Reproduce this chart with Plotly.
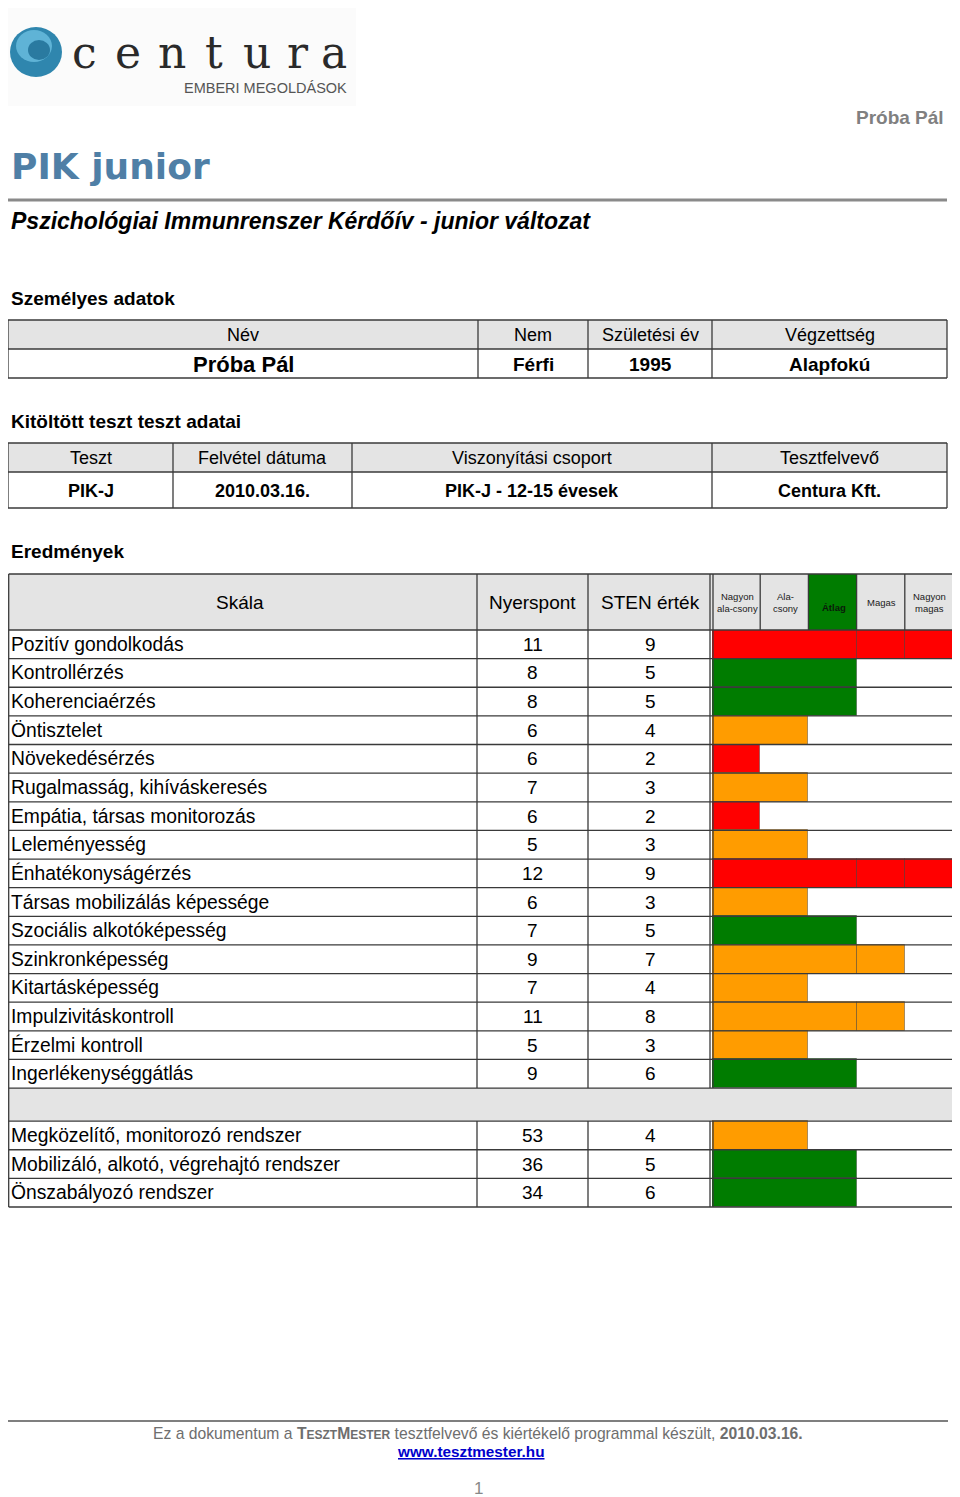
import plotly.graph_objects as go

# ---------------- data ----------------
scale_names = [
    "Pozitív gondolkodás", "Kontrollérzés", "Koherenciaérzés", "Öntisztelet",
    "Növekedésérzés", "Rugalmasság, kihíváskeresés", "Empátia, társas monitorozás",
    "Leleményesség", "Énhatékonyságérzés", "Társas mobilizálás képessége",
    "Szociális alkotóképesség", "Szinkronképesség", "Kitartásképesség",
    "Impulzivitáskontroll", "Érzelmi kontroll", "Ingerlékenységgátlás",
]
raw_scores = [11, 8, 8, 6, 6, 7, 6, 5, 12, 6, 7, 9, 7, 11, 5, 9]
sten_scores = [9, 5, 5, 4, 2, 3, 2, 3, 9, 3, 5, 7, 4, 8, 3, 6]

system_names = [
    "Megközelítő, monitorozó rendszer",
    "Mobilizáló, alkotó, végrehajtó rendszer",
    "Önszabályozó rendszer",
]
system_raw = [53, 36, 34]
system_sten = [4, 5, 6]

level_labels = ["Nagyon<br>ala-csony", "Ala-<br>csony", "Átlag", "Magas", "Nagyon<br>magas"]
level_colors = ["#ff0000", "#ff9c00", "#007c00", "#ff9c00", "#ff0000"]

personal_headers = ["Név", "Nem", "Születési év", "Végzettség"]
personal_values = ["Próba Pál", "Férfi", "1995", "Alapfokú"]
test_headers = ["Teszt", "Felvétel dátuma", "Viszonyítási csoport", "Tesztfelvevő"]
test_values = ["PIK-J", "2010.03.16.", "PIK-J - 12-15 évesek", "Centura Kft."]
result_headers = ["Skála", "Nyerspont", "STEN érték"]

person_name = "Próba Pál"
title_text = "PIK junior"
subtitle_text = "Pszichológiai Immunrenszer Kérdőív - junior változat"

# ---------------- layout constants (page pixels) ----------------
PAGE_W, PAGE_H = 960, 1497
OFF = 8                      # default page margin around the figure
W, H = PAGE_W - OFF, PAGE_H - OFF
FONT = "Liberation Sans, Arial, Helvetica, sans-serif"
LINE = "#3a3a3a"
HEAD_BG = "#e4e4e4"
LEFT = 8.5                   # left anchor for left-aligned texts

P_X = [8, 478, 588, 712, 947]
P_Y = [320, 349, 378]
T_X = [8, 173, 352, 712, 947]
T_Y = [443, 472, 508]
R_X = [8.7, 477, 588, 712, 953]
R_HEAD = (574, 630)
R_MAIN = (630, 1088)
R_SEP = (1088, 1121)
R_SYS = (1121, 1207)

n_main = len(scale_names)
n_sys = len(system_names)
rh_main = (R_MAIN[1] - R_MAIN[0]) / n_main
sep_units = (R_SEP[1] - R_SEP[0]) / rh_main
TOT = n_main + sep_units + n_sys
RHPX = (R_SYS[1] - R_MAIN[0]) / TOT

row_pos = [i + 0.5 for i in range(n_main)] + [n_main + sep_units + j + 0.5 for j in range(n_sys)]


def to_px(u):
    return R_MAIN[0] + u * RHPX


fig = go.Figure()
shapes = []
ann = []


def hline(x0, x1, y, w=1.3, color=LINE):
    shapes.append(dict(type="line", xref="x", yref="y", x0=x0, x1=x1, y0=y, y1=y,
                       line=dict(color=color, width=w), layer="above"))


def vline(x, y0, y1, w=1.3, color=LINE):
    shapes.append(dict(type="line", xref="x", yref="y", x0=x, x1=x, y0=y0, y1=y1,
                       line=dict(color=color, width=w), layer="above"))


def fill(x0, y0, x1, y1, color):
    shapes.append(dict(type="rect", xref="x", yref="y", x0=x0, x1=x1, y0=y0, y1=y1,
                       line=dict(width=0), fillcolor=color, layer="below"))


def text(x, y, s, size=19, color="#000", bold=False, italic=False, xanchor="center",
         family=FONT, yref="y", **kw):
    ann.append(dict(x=x, y=y, xref="x", yref=yref, text=s, showarrow=False,
                    xanchor=xanchor, yanchor="middle",
                    font=dict(family=family, size=size, color=color,
                              weight="bold" if bold else "normal",
                              style="italic" if italic else "normal", **kw)))


# ---------------- logo ----------------
fill(8, 8, 356, 106, "#fbfbfb")
shapes.append(dict(type="circle", xref="x", yref="y", x0=10, x1=62, y0=27, y1=77,
                   fillcolor="#2f86ae", line=dict(width=0), layer="above"))
shapes.append(dict(type="circle", xref="x", yref="y", x0=16, x1=52, y0=30, y1=62,
                   fillcolor="#5fb3d6", line=dict(width=0), layer="above"))
shapes.append(dict(type="circle", xref="x", yref="y", x0=28, x1=50, y0=40, y1=60,
                   fillcolor="#2a7aa0", line=dict(width=0), layer="above"))
for ch, cx in zip("centura", [84, 128, 172, 214, 257, 298, 334]):
    text(cx, 52, ch, size=44, color="#2a2a2a", family="DejaVu Serif, serif")
text(265, 88, "EMBERI MEGOLDÁSOK", size=14.5, color="#555")

# ---------------- header ----------------
text(946, 117, person_name, size=19, color="#808080", bold=True, xanchor="right")
text(LEFT, 166, title_text, size=36, color="#4f7fa6", bold=True, xanchor="left",
     family="DejaVu Sans, Verdana, sans-serif")
hline(8, 947, 200, w=3, color="#8a8a8a")
text(LEFT, 221, subtitle_text, size=23, bold=True, italic=True, xanchor="left")

# ---------------- personal table ----------------
text(LEFT, 298, "Személyes adatok", size=19, bold=True, xanchor="left")
fill(P_X[0], P_Y[0], P_X[-1], P_Y[1], HEAD_BG)
for y in P_Y:
    hline(P_X[0], P_X[-1], y)
for x in P_X:
    vline(x, P_Y[0], P_Y[-1])
for i, (h, v) in enumerate(zip(personal_headers, personal_values)):
    cx = (P_X[i] + P_X[i + 1]) / 2
    text(cx, (P_Y[0] + P_Y[1]) / 2, h, size=18)
    text(cx, (P_Y[1] + P_Y[2]) / 2 + 1, v, size=22 if i == 0 else 19, bold=True)

# ---------------- test table ----------------
text(LEFT, 421, "Kitöltött teszt teszt adatai", size=19, bold=True, xanchor="left")
fill(T_X[0], T_Y[0], T_X[-1], T_Y[1], HEAD_BG)
for y in T_Y:
    hline(T_X[0], T_X[-1], y)
for x in T_X:
    vline(x, T_Y[0], T_Y[-1])
for i, (h, v) in enumerate(zip(test_headers, test_values)):
    cx = (T_X[i] + T_X[i + 1]) / 2
    text(cx, (T_Y[0] + T_Y[1]) / 2, h, size=18)
    text(cx, (T_Y[1] + T_Y[2]) / 2 + 1, v, size=18, bold=True)

# ---------------- results table ----------------
text(LEFT, 551, "Eredmények", size=19, bold=True, xanchor="left")
n_lv = len(level_labels)
cell_w = (R_X[-1] - R_X[3]) / n_lv
cat_x = [R_X[3] + k * cell_w for k in range(n_lv + 1)]

fill(R_X[0], R_HEAD[0], R_X[-1], R_HEAD[1], HEAD_BG)
fill(cat_x[2], R_HEAD[0], cat_x[3], R_HEAD[1], level_colors[2])
fill(R_X[0], R_SEP[0], R_X[-1], R_SEP[1], HEAD_BG)

hy = (R_HEAD[0] + R_HEAD[1]) / 2
for i, h in enumerate(result_headers):
    text((R_X[i] + R_X[i + 1]) / 2 - (3 if i == 0 else 0), hy, h, size=19)
for k, lab in enumerate(level_labels):
    text((cat_x[k] + cat_x[k + 1]) / 2 + 1, hy + (5 if k == 2 else 0), lab, size=9.5,
         color="#0a1a0a" if k == 2 else "#1a1a1a", bold=(k == 2))

hline(R_X[0], R_X[-1], R_HEAD[0])
for x in [R_X[0], R_X[1], R_X[2], R_X[3] - 2, R_X[3] + 1] + cat_x[1:]:
    vline(x, R_HEAD[0], R_HEAD[1])

bounds = [to_px(u) for u in range(n_main + 1)]
bounds += [to_px(n_main + sep_units + j) for j in range(n_sys + 1)]
for y in bounds:
    hline(R_X[0], R_X[-1], y)
for (y0, y1) in [(R_MAIN[0], R_MAIN[1]), (R_SYS[0], R_SYS[1])]:
    for x in [R_X[0], R_X[1], R_X[2], R_X[3] - 2, R_X[3] + 1, R_X[-1]]:
        vline(x, y0, y1)
vline(R_X[0], R_SEP[0], R_SEP[1])
vline(R_X[-1], R_SEP[0], R_SEP[1])

all_names = scale_names + system_names
all_raw = raw_scores + system_raw
all_sten = sten_scores + system_sten
for pos, nm, rw, st in zip(row_pos, all_names, all_raw, all_sten):
    text(LEFT + 0.5, pos, nm, size=19.3, xanchor="left", yref="y2")
    text((R_X[1] + R_X[2]) / 2, pos, str(rw), size=19, yref="y2")
    text((R_X[2] + R_X[3]) / 2, pos, str(st), size=19, yref="y2")

# bars: STEN level (1-2, 3-4, 5-6, 7-8, 9-10); block up to "Átlag", then single cells
levels = [(s + 1) // 2 for s in all_sten]
row_colors = [level_colors[lv - 1] for lv in levels]
segments = [(0, 3), (3, 4), (4, 5)]
for lo, hi in segments:
    xs = [(min(lv, hi) - lo) if lv > lo else None for lv in levels]
    fig.add_trace(go.Bar(
        orientation="h", y=row_pos, x=xs, base=lo, width=1,
        marker=dict(color=row_colors, line=dict(color="rgba(40,40,40,0.4)", width=1)),
        xaxis="x2", yaxis="y2", hoverinfo="skip", showlegend=False,
    ))

# ---------------- footer ----------------
hline(8, 948, 1421, w=1.5, color="#555")
foot = ("Ez a dokumentum a <b>T<span style='font-size:12px'>ESZT</span>M"
        "<span style='font-size:12px'>ESTER</span></b> tesztfelvevő és kiértékelő "
        "programmal készült, <b>2010.03.16.</b>")
text(478, 1433, foot, size=15.7, color="#6e6e6e")
text(471, 1451, "www.tesztmester.hu", size=15.3, color="#0000cc", bold=True, lineposition="under")
text(478, 1488, "1", size=17, color="#888")


def dom_x(a, b):
    return [(a - OFF) / W, (b - OFF) / W]


def dom_y(top, bottom):
    return [1 - (bottom - OFF) / H, 1 - (top - OFF) / H]


fig.update_layout(
    width=W, height=H,
    margin=dict(l=0, r=0, t=0, b=0),
    paper_bgcolor="white", plot_bgcolor="rgba(0,0,0,0)",
    barmode="overlay", bargap=0,
    xaxis=dict(range=[OFF, PAGE_W], visible=False, domain=[0, 1], fixedrange=True),
    yaxis=dict(range=[PAGE_H, OFF], visible=False, domain=[0, 1], fixedrange=True),
    xaxis2=dict(range=[0, n_lv], visible=False, anchor="y2",
                domain=dom_x(R_X[3], R_X[-1]), fixedrange=True),
    yaxis2=dict(range=[TOT, 0], visible=False, anchor="x2",
                domain=dom_y(R_MAIN[0], R_SYS[1]), fixedrange=True),
    shapes=shapes,
    annotations=ann,
    showlegend=False,
)

fig.write_html("out.html")
